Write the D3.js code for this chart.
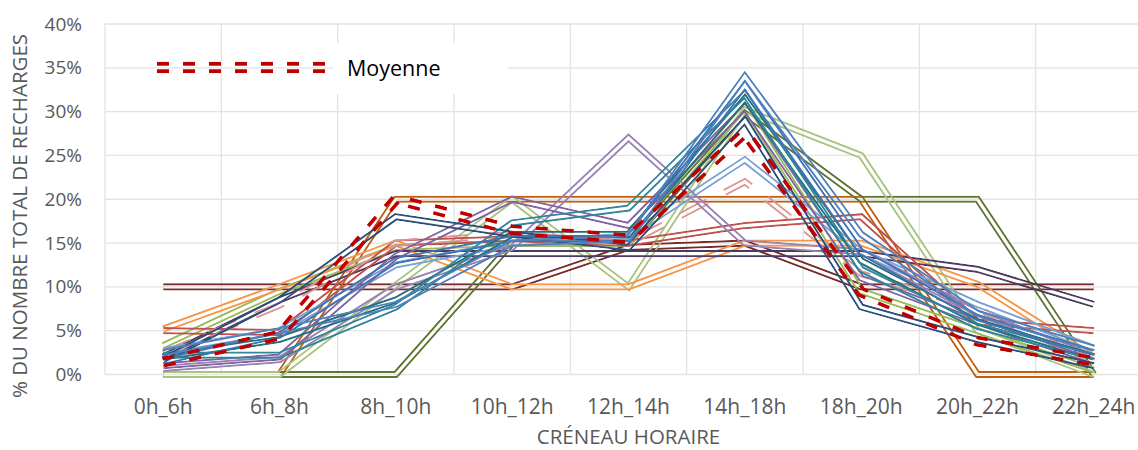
<!DOCTYPE html>
<html>
<head>
<meta charset="utf-8">
<script src="https://cdn.jsdelivr.net/npm/d3@7"></script>
<style>
  html, body { margin: 0; padding: 0; background: #fff; }
  svg { display: block; font-family: "Open Sans", "Noto Sans", sans-serif; }
</style>
</head>
<body>
<div id="chart"></div>
<script>
// categories (x axis) and y ticks
const categories = ["0h_6h", "6h_8h", "8h_10h", "10h_12h", "12h_14h", "14h_18h", "18h_20h", "20h_22h", "22h_24h"];
const yTicks = [0, 0.05, 0.10, 0.15, 0.20, 0.25, 0.30, 0.35, 0.40];

// one array per station, values in %
const maroon     = [10, 10, 10, 10, 14.5, 15, 10, 10, 10];
const darkOrange = [0, 0, 20, 20, 20, 20, 20, 0, 0];
const olive      = [0, 0, 0, 15, 15, 29.8, 20, 20, 0];
const paleGreen  = [0, 0, 10.2, 20, 10, 30.2, 25, 5, 0];
const green      = [3.3, 9.5, 14.5, 15, 15, 30.5, 9.5, 5, 0.5];
const orange     = [5.2, 10, 15, 10, 10, 15, 15, 10.3, 2];
const navy       = [1.7, 8.5, 18, 16, 14.5, 29, 7.7, 4, 1];
const plum       = [2, 8.5, 13.8, 13.8, 13.8, 13.8, 13.8, 12, 8];
const teal       = [2.2, 2.2, 7.7, 17.3, 19, 32, 12, 5.5, 2];
const purple     = [0.7, 1.7, 10, 14.5, 27, 15, 14, 7, 2];
const lilac      = [1, 2, 13.5, 20, 17, 30.5, 11, 6, 1.5];
const blue       = [2.5, 5, 8, 15, 15.5, 34, 16, 7, 3];
const skyBlue    = [2.7, 5, 12.5, 15, 15.8, 24.5, 14, 8, 3];
const red        = [5, 4.8, 15, 15.5, 15, 17, 18, 6, 5];
const salmon     = [2.4, 7.9, 15, 16, 15, 22, 11.5, 7.5, 1.5];
const darkTeal   = [2, 4, 8.5, 16, 16, 31.5, 13, 6, 2];
const steelBlue  = [1.5, 4.5, 13, 15.5, 15.5, 33, 14, 6.5, 2.5];
const moyenne    = [1.4, 4.5, 20, 16.5, 15.5, 27.6, 9.4, 3.8, 1.5];

const stations = [
    { values: maroon, color: "#772c2a" },
    { values: darkOrange, color: "#c0600f" },
    { values: olive, color: "#5f7530" },
    { values: paleGreen, color: "#a9c47f" },
    { values: green, color: "#9bbb59" },
    { values: orange, color: "#f79646" },
    { values: plum, color: "#4b3a62" },
    { values: red, color: "#c0504d" },
    { values: salmon, color: "#d99694", dash: "30,20" },
    { values: skyBlue, color: "#7ba1d3" },
    { values: purple, color: "#9983b5" },
    { values: lilac, color: "#8064a2" },
    { values: darkTeal, color: "#23707a" },
    { values: teal, color: "#31859c" },
    { values: navy, color: "#2b4f7a" },
    { values: steelBlue, color: "#3f74b4" },
    { values: blue, color: "#4f81bd" }
];

const W = 1138, H = 450;
const plot = { left: 105, right: 1152, top: 24, bottom: 374.5 };

const svg = d3.select("#chart").append("svg")
    .attr("width", W)
    .attr("height", H);
const defs = svg.append("defs");

const x = d3.scaleBand().domain(categories).range([plot.left, plot.right]).padding(0);
const y = d3.scaleLinear().domain([0, 0.4]).range([plot.bottom, plot.top]);
const cx = c => x(c) + x.bandwidth() / 2;

// gridlines
svg.append("g").selectAll("line.h")
    .data(yTicks)
    .join("line")
    .attr("x1", plot.left).attr("x2", plot.right)
    .attr("y1", d => y(d)).attr("y2", d => y(d))
    .attr("stroke", "#e3e3e3").attr("stroke-width", 1.3);

svg.append("g").selectAll("line.v")
    .data(categories)
    .join("line")
    .attr("x1", d => x(d)).attr("x2", d => x(d))
    .attr("y1", plot.top).attr("y2", plot.bottom)
    .attr("stroke", "#e3e3e3").attr("stroke-width", 1.3);

// axis labels
const yAxis = svg.append("g")
    .attr("transform", `translate(${plot.left - 23},0)`)
    .call(d3.axisLeft(y).tickValues(yTicks).tickFormat(d3.format(".0%")).tickSize(0).tickPadding(0));
yAxis.select(".domain").remove();
yAxis.selectAll("text")
    .attr("font-size", 19).attr("fill", "#595959")
    .attr("font-family", "Open Sans, Noto Sans, sans-serif");

const xAxis = svg.append("g")
    .attr("transform", `translate(0,${plot.bottom + 25})`)
    .call(d3.axisBottom(x).tickSize(0).tickPadding(0));
xAxis.select(".domain").remove();
xAxis.selectAll("text")
    .attr("font-size", 21).attr("fill", "#595959")
    .attr("font-family", "Open Sans, Noto Sans, sans-serif");

svg.append("text")
    .attr("x", (plot.left + plot.right) / 2)
    .attr("y", 444)
    .attr("text-anchor", "middle")
    .attr("font-size", 20.5).attr("fill", "#595959")
    .text("CRÉNEAU HORAIRE");

svg.append("text")
    .attr("transform", "translate(27,216) rotate(-90)")
    .attr("text-anchor", "middle")
    .attr("font-size", 20.5).attr("fill", "#595959")
    .text("% DU NOMBRE TOTAL DE RECHARGES");

// double ("compound") strokes via masks
const line = d3.line()
    .x((d, i) => cx(categories[i]))
    .y(d => y(d / 100));

function doubleLine(parent, d, color, outer, inner, dash, id) {
    const m = defs.append("mask")
        .attr("id", id)
        .attr("maskUnits", "userSpaceOnUse")
        .attr("x", 0).attr("y", 0).attr("width", W).attr("height", H);
    m.append("path").attr("d", d).attr("fill", "none")
        .attr("stroke", "#fff").attr("stroke-width", outer).attr("stroke-linejoin", "miter");
    m.append("path").attr("d", d).attr("fill", "none")
        .attr("stroke", "#000").attr("stroke-width", inner).attr("stroke-linejoin", "miter");
    parent.append("path")
        .attr("d", d)
        .attr("fill", "none")
        .attr("stroke", color)
        .attr("stroke-width", outer)
        .attr("stroke-linejoin", "miter")
        .attr("stroke-dasharray", dash || null)
        .attr("mask", `url(#${id})`);
}

const linesG = svg.append("g");
stations.forEach((s, i) => {
    doubleLine(linesG, line(s.values), s.color, 7.2, 3.2, s.dash, "m" + i);
});
doubleLine(linesG, line(moyenne), "#c00000", 11, 3.6, "12,14", "mMoy");

// legend
svg.append("rect")
    .attr("x", 333).attr("y", 43).attr("width", 175).attr("height", 51)
    .attr("fill", "#fff");
const legLine = d3.line()([[157, 67.5], [327, 67.5]]);
doubleLine(svg, legLine, "#c00000", 11.6, 3.6, "12,14", "mLeg");
svg.append("text")
    .attr("x", 347).attr("y", 75.5)
    .attr("font-size", 21.5).attr("fill", "#000")
    .text("Moyenne");
</script>
</body>
</html>
